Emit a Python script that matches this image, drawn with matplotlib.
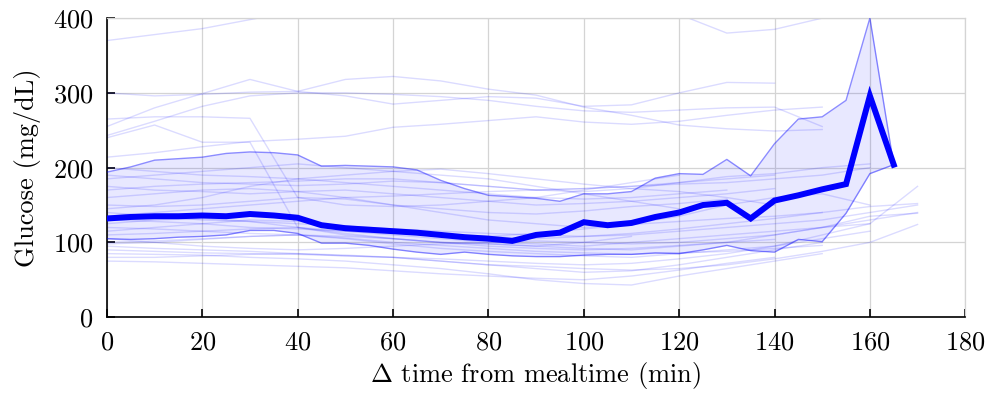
import numpy as np
import matplotlib
matplotlib.use('Agg')
import matplotlib.pyplot as plt

plt.rcParams['font.family'] = 'serif'
plt.rcParams['font.serif'] = ['cmr10']
plt.rcParams['mathtext.fontset'] = 'cm'
plt.rcParams['axes.formatter.use_mathtext'] = True
plt.rcParams['font.size'] = 19

# mean glucose and band, every 5 min
t_mean = list(range(0, 170, 5))
mean_glucose = [132, 134, 135, 135, 136, 135, 138, 136, 133, 123, 119, 117, 115, 113, 110, 107, 105,
                102, 110, 113, 127, 123, 126, 134, 140, 150, 153, 132, 156, 163, 171, 178, 296, 204]
upper_glucose = [194, 201, 210, 212, 214, 219, 221, 220, 217, 202, 203, 202, 201, 197, 183, 172, 163,
                 161, 159, 155, 165, 165, 168, 186, 192, 191, 211, 189, 232, 265, 268, 290, 400, 204]
lower_glucose = [105, 104, 105, 107, 108, 110, 116, 116, 112, 99, 99, 96, 91, 87, 84, 87, 84,
                 82, 81, 81, 83, 84, 84, 86, 85, 90, 96, 89, 87, 104, 101, 139, 192, 204]

# individual meals (start time, values every 10 min)
trace_step = 10
traces = [
    (0, [370, 378, 386, 398, 410, 418, 420, 420, 418, 415, 412, 410, 405, 380, 385, 400, 410]),
    (0, [255, 280, 299, 318, 302, 318, 322, 316, 305, 297, 281, 270, 257, 252, 249, 251]),
    (0, [300, 296, 298, 301, 302, 296, 285, 290, 295, 293, 282, 284, 300, 314, 313]),
    (0, [243, 262, 282, 296, 300, 300, 298, 295, 290, 282, 276, 274, 277, 280, 281, 255]),
    (0, [240, 257, 234, 234, 120, 110, 105, 100, 98, 95, 100, 108]),
    (0, [265, 268, 268, 266, 160, 150, 148, 150, 155, 160, 170, 180, 190]),
    (0, [214, 220, 228, 235, 238, 242, 254, 258, 263, 268, 261, 258, 262, 270, 277, 281]),
    (0, [190, 185, 180, 178, 176, 178, 182, 180, 175, 170, 168, 172, 180, 188, 192, 200, 205]),
    (0, [175, 170, 168, 165, 168, 170, 165, 160, 155, 150, 152, 155, 160, 165, 172]),
    (0, [160, 165, 170, 172, 168, 160, 150, 145, 140, 138, 142, 148, 152, 158]),
    (0, [150, 148, 150, 155, 160, 158, 150, 140, 130, 125, 120, 125, 135, 150, 160, 165, 150]),
    (0, [200, 195, 190, 188, 185, 190, 195, 198, 192, 185, 178, 172, 168, 160, 150]),
    (0, [145, 150, 160, 175, 185, 180, 175, 170, 165, 160, 158, 160, 165, 170]),
    (0, [185, 190, 195, 200, 205, 200, 195, 190, 185, 175, 165, 155, 145]),
    (0, [170, 175, 178, 180, 182, 185, 185, 180, 175, 170, 172, 175, 178, 180, 185, 190, 200]),
    (0, [135, 140, 145, 150, 155, 160, 162, 165, 168, 170, 172, 175, 180, 185, 190]),
    (0, [120, 118, 115, 112, 110, 108, 105, 100, 98, 95, 92, 90, 95, 100, 110, 120, 130, 140]),
    (0, [110, 112, 115, 118, 120, 115, 110, 105, 100, 98, 95, 100, 105, 110, 115, 120, 125]),
    (0, [100, 102, 105, 108, 110, 105, 98, 92, 88, 85, 82, 80, 85, 90, 95, 105, 115]),
    (0, [95, 92, 90, 88, 85, 82, 80, 78, 75, 72, 70, 72, 78, 85, 95, 110, 125, 175]),
    (0, [90, 88, 86, 85, 84, 82, 80, 75, 70, 65, 60, 62, 70, 80, 90, 100]),
    (0, [80, 80, 82, 84, 85, 83, 80, 75, 70, 68, 65, 63, 65, 70, 78, 88, 100, 124]),
    (0, [75, 74, 72, 70, 68, 66, 62, 58, 55, 52, 50, 55, 63, 72, 80]),
    (0, [85, 84, 83, 80, 78, 75, 70, 65, 58, 50, 45, 43, 55, 65, 75, 85]),
    (0, [105, 100, 95, 92, 90, 92, 95, 98, 100, 102, 100, 98, 100, 105, 110, 120, 135, 139]),
    (0, [130, 128, 125, 120, 118, 115, 112, 110, 108, 105, 108, 112, 118, 125, 132, 140, 148, 152]),
    (0, [115, 120, 125, 130, 128, 122, 115, 110, 108, 112, 118, 124, 128, 132, 135, 140]),
    (0, [125, 130, 132, 128, 120, 112, 105, 100, 95, 92, 90, 92, 96, 100, 104]),
    (0, [140, 135, 130, 128, 125, 122, 118, 115, 112, 110, 108, 110, 115, 120, 125, 130, 140, 150]),
    (0, [98, 100, 104, 108, 110, 106, 100, 96, 92, 88, 86, 84, 86, 88, 92, 96]),
]

fig = plt.figure(figsize=(9.9, 4.03), dpi=100)
ax = fig.add_axes([0.108, 0.213, 0.867, 0.742])

# band
ax.fill_between(t_mean, lower_glucose, upper_glucose, color=(0, 0, 1, 0.09), linewidth=0, zorder=1)

# individual traces
for t0, vals in traces:
    t = np.arange(len(vals)) * trace_step + t0
    ax.plot(t, vals, color='blue', alpha=0.14, linewidth=1.0, zorder=2)

ax.plot(t_mean, upper_glucose, color='blue', alpha=0.45, linewidth=1.0, zorder=3)
ax.plot(t_mean, lower_glucose, color='blue', alpha=0.45, linewidth=1.0, zorder=3)
ax.plot(t_mean, mean_glucose, color='blue', linewidth=4.3, zorder=4, solid_joinstyle='miter')

ax.set_xlim(0, 180)
ax.set_ylim(0, 400)
ax.set_xticks(range(0, 181, 20))
ax.set_yticks(range(0, 401, 100))
ax.grid(True, color='#d4d4d4', linewidth=0.9)
ax.set_axisbelow(True)
ax.tick_params(direction='in', length=6, width=1.2, pad=10, top=False, right=False)
for side in ['top', 'right']:
    ax.spines[side].set_color('#d4d4d4')
    ax.spines[side].set_linewidth(0.9)
for side in ['left', 'bottom']:
    ax.spines[side].set_linewidth(1.2)

ax.set_xlabel(r'$\Delta$ time from mealtime (min)', labelpad=4)
ax.set_ylabel('Glucose (mg/dL)', labelpad=8)

fig.savefig('out.png', dpi=100)
